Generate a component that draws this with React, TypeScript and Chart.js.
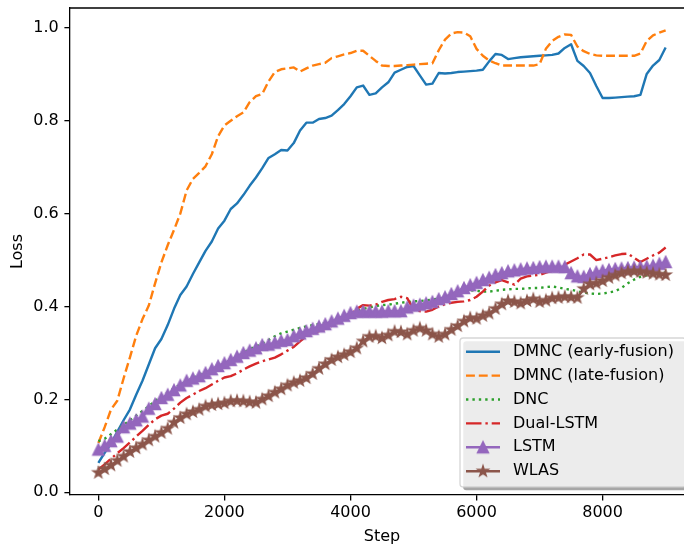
import React, { useEffect, useRef } from 'react';
import { Chart, registerables } from 'chart.js';

Chart.register(...registerables);

const FONT = '"DejaVu Sans", "Liberation Sans", sans-serif';

const steps = [
  0, 100, 200, 300, 400, 500, 600, 700, 800, 900,
  1000, 1100, 1200, 1300, 1400, 1500, 1600, 1700, 1800, 1900,
  2000, 2100, 2200, 2300, 2400, 2500, 2600, 2700, 2800, 2900,
  3000, 3100, 3200, 3300, 3400, 3500, 3600, 3700, 3800, 3900,
  4000, 4100, 4200, 4300, 4400, 4500, 4600, 4700, 4800, 4900,
  5000, 5100, 5200, 5300, 5400, 5500, 5600, 5700, 5800, 5900,
  6000, 6100, 6200, 6300, 6400, 6500, 6600, 6700, 6800, 6900,
  7000, 7100, 7200, 7300, 7400, 7500, 7600, 7700, 7800, 7900,
  8000, 8100, 8200, 8300, 8400, 8500, 8600, 8700, 8800, 8900,
  9000,
];

const earlyFusion = [
  0.063, 0.085, 0.105, 0.130, 0.155, 0.178, 0.210, 0.240, 0.275, 0.310,
  0.330, 0.360, 0.395, 0.425, 0.443, 0.470, 0.495, 0.520, 0.540, 0.568,
  0.585, 0.610, 0.622, 0.640, 0.660, 0.678, 0.698, 0.720, 0.728, 0.737,
  0.736, 0.752, 0.779, 0.796, 0.796, 0.804, 0.806, 0.811, 0.823, 0.836,
  0.853, 0.872, 0.876, 0.856, 0.859, 0.872, 0.883, 0.904, 0.910, 0.916,
  0.918, 0.898, 0.878, 0.880, 0.903, 0.902, 0.903, 0.905, 0.906, 0.907,
  0.908, 0.910, 0.928, 0.944, 0.942, 0.933, 0.935, 0.937, 0.938, 0.939,
  0.940, 0.941, 0.942, 0.945, 0.957, 0.965, 0.929, 0.918, 0.903, 0.875,
  0.849, 0.849, 0.850, 0.851, 0.852, 0.853, 0.856, 0.901, 0.919, 0.931,
  0.958,
];

const lateFusion = [
  0.106, 0.140, 0.178, 0.197, 0.245, 0.290, 0.337, 0.373, 0.402, 0.450,
  0.495, 0.532, 0.565, 0.600, 0.650, 0.675, 0.688, 0.702, 0.728, 0.767,
  0.790, 0.800, 0.810, 0.818, 0.840, 0.853, 0.858, 0.885, 0.905, 0.911,
  0.913, 0.915, 0.906, 0.913, 0.919, 0.922, 0.925, 0.935, 0.939, 0.943,
  0.946, 0.951, 0.951, 0.940, 0.929, 0.919, 0.918, 0.918, 0.919, 0.920,
  0.921, 0.922, 0.923, 0.924, 0.952, 0.975, 0.988, 0.991, 0.990, 0.982,
  0.955, 0.940, 0.930, 0.924, 0.919, 0.919, 0.919, 0.919, 0.919, 0.919,
  0.922, 0.955, 0.972, 0.981, 0.986, 0.985, 0.960, 0.950, 0.944, 0.941,
  0.940, 0.940, 0.940, 0.940, 0.940, 0.940, 0.945, 0.972, 0.984, 0.990,
  0.995,
];

const dnc = [
  0.110, 0.115, 0.125, 0.135, 0.145, 0.155, 0.165, 0.175, 0.185, 0.197,
  0.206, 0.215, 0.224, 0.232, 0.238, 0.246, 0.253, 0.260, 0.266, 0.272,
  0.278, 0.285, 0.292, 0.300, 0.308, 0.314, 0.320, 0.328, 0.336, 0.342,
  0.346, 0.350, 0.354, 0.357, 0.360, 0.362, 0.364, 0.366, 0.368, 0.372,
  0.380, 0.390, 0.395, 0.398, 0.401, 0.403, 0.404, 0.406, 0.408, 0.410,
  0.411, 0.412, 0.413, 0.415, 0.417, 0.419, 0.422, 0.426, 0.431, 0.435,
  0.434, 0.432, 0.432, 0.434, 0.436, 0.437, 0.438, 0.438, 0.439, 0.440,
  0.440, 0.442, 0.443, 0.441, 0.438, 0.436, 0.433, 0.430, 0.428, 0.427,
  0.428, 0.430, 0.433, 0.440, 0.450, 0.458, 0.464, 0.467, 0.470, 0.472,
  0.473,
];

const dualLstm = [
  0.049, 0.060, 0.072, 0.084, 0.095, 0.107, 0.120, 0.132, 0.145, 0.157,
  0.165, 0.169, 0.180, 0.193, 0.203, 0.210, 0.218, 0.224, 0.232, 0.240,
  0.247, 0.250, 0.256, 0.264, 0.271, 0.277, 0.282, 0.286, 0.290, 0.297,
  0.305, 0.313, 0.325, 0.336, 0.342, 0.347, 0.352, 0.358, 0.365, 0.373,
  0.382, 0.395, 0.403, 0.402, 0.404, 0.410, 0.414, 0.416, 0.421, 0.418,
  0.393, 0.390, 0.389, 0.393, 0.400, 0.405, 0.408, 0.410, 0.411, 0.414,
  0.421, 0.432, 0.445, 0.452, 0.457, 0.452, 0.447, 0.460, 0.465, 0.467,
  0.468, 0.473, 0.477, 0.482, 0.490, 0.497, 0.504, 0.512, 0.512, 0.500,
  0.503, 0.506, 0.510, 0.513, 0.514, 0.505, 0.496, 0.503, 0.510, 0.516,
  0.527,
];

const lstm = [
  0.092, 0.100, 0.110, 0.120, 0.140, 0.148, 0.155, 0.163, 0.180, 0.190,
  0.203, 0.210, 0.220, 0.230, 0.240, 0.245, 0.250, 0.257, 0.265, 0.272,
  0.278, 0.285, 0.292, 0.300, 0.305, 0.310, 0.317, 0.318, 0.322, 0.326,
  0.328, 0.336, 0.342, 0.347, 0.352, 0.357, 0.362, 0.368, 0.374, 0.380,
  0.386, 0.389, 0.389, 0.389, 0.389, 0.389, 0.390, 0.390, 0.390, 0.398,
  0.402, 0.404, 0.407, 0.410, 0.416, 0.420, 0.427, 0.433, 0.440, 0.446,
  0.451, 0.457, 0.462, 0.468, 0.472, 0.476, 0.478, 0.480, 0.482, 0.483,
  0.485, 0.486, 0.486, 0.486, 0.485, 0.472, 0.465, 0.464, 0.470, 0.474,
  0.477, 0.479, 0.481, 0.482, 0.483, 0.484, 0.485, 0.486, 0.488, 0.492,
  0.496,
];

const wlas = [
  0.042, 0.050, 0.058, 0.068, 0.077, 0.087, 0.095, 0.103, 0.112, 0.120,
  0.128, 0.137, 0.150, 0.160, 0.168, 0.173, 0.178, 0.185, 0.188, 0.190,
  0.192, 0.196, 0.197, 0.196, 0.194, 0.193, 0.200, 0.207, 0.215, 0.222,
  0.230, 0.236, 0.240, 0.246, 0.255, 0.266, 0.276, 0.285, 0.291, 0.296,
  0.302, 0.310, 0.325, 0.335, 0.336, 0.332, 0.338, 0.346, 0.345, 0.340,
  0.348, 0.353, 0.348, 0.340, 0.335, 0.340, 0.350, 0.358, 0.368, 0.375,
  0.374, 0.380, 0.385, 0.395, 0.405, 0.412, 0.410, 0.407, 0.412, 0.416,
  0.410, 0.413, 0.418, 0.419, 0.421, 0.420, 0.419, 0.438, 0.448, 0.450,
  0.455, 0.462, 0.467, 0.472, 0.475, 0.476, 0.475, 0.473, 0.471, 0.469,
  0.468,
];

const seriesLabels = ['DMNC (early-fusion)', 'DMNC (late-fusion)', 'DNC', 'Dual-LSTM', 'LSTM', 'WLAS'];
const seriesValues = [earlyFusion, lateFusion, dnc, dualLstm, lstm, wlas];
const seriesColors = ['#1f77b4', '#ff7f0e', '#2ca02c', '#d62728', '#9467bd', '#8c564b'];
const seriesDashes: number[][] = [[], [8.9, 3.9], [2.4, 4.0], [15.5, 3.9, 2.4, 3.9], [], []];
const seriesMarkers = ['none', 'none', 'none', 'none', 'triangle', 'star'];

const xTicks = [0, 2000, 4000, 6000, 8000];
const yTicks = [0, 0.2, 0.4, 0.6, 0.8, 1.0];
const xLabel = 'Step';
const yLabel = 'Loss';

function makeMarker(kind: string, color: string): HTMLCanvasElement {
  const size = 20;
  const c = document.createElement('canvas');
  c.width = size;
  c.height = size;
  const g = c.getContext('2d') as CanvasRenderingContext2D;
  const cx = size / 2;
  const cy = size / 2;
  g.beginPath();
  if (kind === 'triangle') {
    const r = 5.4;
    g.moveTo(cx, cy - r);
    g.lineTo(cx - r, cy + r);
    g.lineTo(cx + r, cy + r);
    g.closePath();
  } else {
    const r = 5.2;
    for (let k = 0; k < 10; k++) {
      const rad = k % 2 === 0 ? r : r * 0.381966;
      const a = -Math.PI / 2 + (k * Math.PI) / 5;
      const px = cx + rad * Math.cos(a);
      const py = cy + rad * Math.sin(a);
      if (k === 0) g.moveTo(px, py);
      else g.lineTo(px, py);
    }
    g.closePath();
  }
  g.fillStyle = color;
  g.fill();
  g.lineWidth = 1.6;
  g.lineJoin = 'miter';
  g.strokeStyle = color;
  g.stroke();
  return c;
}

function roundRect(ctx: CanvasRenderingContext2D, x: number, y: number, w: number, h: number, r: number) {
  ctx.beginPath();
  ctx.moveTo(x + r, y);
  ctx.arcTo(x + w, y, x + w, y + h, r);
  ctx.arcTo(x + w, y + h, x, y + h, r);
  ctx.arcTo(x, y + h, x, y, r);
  ctx.arcTo(x, y, x + w, y, r);
  ctx.closePath();
}

export default function App() {
  const ref = useRef<HTMLCanvasElement | null>(null);

  useEffect(() => {
    const canvas = ref.current;
    if (!canvas) return;
    Chart.defaults.font.family = FONT;
    Chart.defaults.font.size = 16;
    Chart.defaults.color = '#000';

    const markers = seriesMarkers.map((m, i) => (m === 'none' ? null : makeMarker(m, seriesColors[i])));

    const datasets = seriesLabels.map((label, i) => ({
      label,
      data: steps.map((s, j) => ({ x: s, y: seriesValues[i][j] })),
      borderColor: seriesColors[i],
      backgroundColor: seriesColors[i],
      borderWidth: 2.4,
      borderDash: seriesDashes[i],
      borderJoinStyle: 'round' as const,
      borderCapStyle: 'butt' as const,
      pointStyle: markers[i] ? markers[i] : 'circle',
      pointRadius: markers[i] ? 5 : 0,
      pointHoverRadius: markers[i] ? 5 : 0,
      tension: 0,
      fill: false,
      order: seriesLabels.length - 1 - i,
    }));

    const framePlugin = {
      id: 'mplFrame',
      afterDraw(chart: any) {
        const ctx: CanvasRenderingContext2D = chart.ctx;
        const a = chart.chartArea;
        ctx.save();
        ctx.strokeStyle = '#000';
        ctx.lineWidth = 1.3;
        ctx.beginPath();
        ctx.moveTo(a.left, a.top);
        ctx.lineTo(a.right, a.top);
        ctx.lineTo(a.right, a.bottom);
        ctx.stroke();

        const lw = 226;
        const lh = 149;
        const lx = a.right - 8 - lw;
        const ly = a.bottom - 8 - lh;
        roundRect(ctx, lx + 3.2, ly + 3.2, lw, lh, 3.2);
        ctx.fillStyle = 'rgba(77,77,77,0.5)';
        ctx.fill();
        roundRect(ctx, lx, ly, lw, lh, 3.2);
        ctx.fillStyle = 'rgba(255,255,255,0.8)';
        ctx.fill();
        ctx.strokeStyle = 'rgba(204,204,204,0.8)';
        ctx.lineWidth = 1.3;
        ctx.stroke();

        ctx.font = '16px ' + FONT;
        ctx.textBaseline = 'middle';
        ctx.textAlign = 'left';
        seriesLabels.forEach((label, i) => {
          const cy = ly + 13.7 + i * 23.9;
          const hx0 = lx + 6;
          const hx1 = lx + 40;
          ctx.save();
          ctx.strokeStyle = seriesColors[i];
          ctx.lineWidth = 2.4;
          ctx.lineCap = 'butt';
          ctx.setLineDash(seriesDashes[i]);
          ctx.beginPath();
          ctx.moveTo(hx0, cy);
          ctx.lineTo(hx1, cy);
          ctx.stroke();
          ctx.restore();
          const mk = markers[i];
          if (mk) {
            ctx.drawImage(mk, (hx0 + hx1) / 2 - mk.width / 2, cy - mk.height / 2);
          }
          ctx.fillStyle = '#000';
          ctx.fillText(label, lx + 53, cy);
        });
        ctx.restore();
      },
    };

    const chart = new Chart(canvas, {
      type: 'line',
      data: { datasets: datasets as any },
      options: {
        animation: false,
        responsive: false,
        devicePixelRatio: 1,
        events: [],
        layout: { padding: { top: 8, right: 26, left: 0, bottom: 0 } },
        plugins: {
          legend: { display: false },
          tooltip: { enabled: false },
        },
        scales: {
          x: {
            type: 'linear',
            min: -450,
            max: 9450,
            afterBuildTicks: (scale: any) => {
              scale.ticks = xTicks.map((v) => ({ value: v }));
            },
            afterFit: (scale: any) => {
              scale.height = 56;
              scale.paddingLeft = 0;
              scale.paddingRight = 0;
            },
            grid: {
              display: true,
              drawOnChartArea: false,
              drawTicks: true,
              tickLength: 5.6,
              color: '#000',
              lineWidth: 1.3,
            },
            border: { display: true, color: '#000', width: 1.3 },
            ticks: {
              autoSkip: false,
              maxRotation: 0,
              padding: 2.5,
              color: '#000',
              font: { size: 16, family: FONT },
              callback: (v: any) => String(v),
            },
            title: {
              display: true,
              text: xLabel,
              color: '#000',
              font: { size: 16, family: FONT },
              padding: { top: 0, bottom: 4.8 },
            },
          },
          y: {
            type: 'linear',
            min: -0.006,
            max: 1.043,
            afterBuildTicks: (scale: any) => {
              scale.ticks = yTicks.map((v) => ({ value: v }));
            },
            afterFit: (scale: any) => {
              scale.width = 70;
              scale.paddingTop = 0;
              scale.paddingBottom = 0;
            },
            grid: {
              display: true,
              drawOnChartArea: false,
              drawTicks: true,
              tickLength: 5.6,
              color: '#000',
              lineWidth: 1.3,
            },
            border: { display: true, color: '#000', width: 1.3 },
            ticks: {
              autoSkip: false,
              padding: 5.6,
              color: '#000',
              font: { size: 16, family: FONT },
              callback: (v: any) => Number(v).toFixed(1),
            },
            title: {
              display: true,
              text: yLabel,
              color: '#000',
              font: { size: 16, family: FONT },
              padding: { top: 8.4, bottom: 0 },
            },
          },
        },
      },
      plugins: [framePlugin],
    });

    return () => {
      chart.destroy();
    };
  }, []);

  return (
    <div
      style={{
        position: 'absolute',
        left: 0,
        top: 0,
        width: 684,
        height: 551,
        overflow: 'hidden',
        background: '#fff',
      }}
    >
      <canvas ref={ref} width={720} height={551} style={{ width: 720, height: 551, display: 'block' }} />
    </div>
  );
}
